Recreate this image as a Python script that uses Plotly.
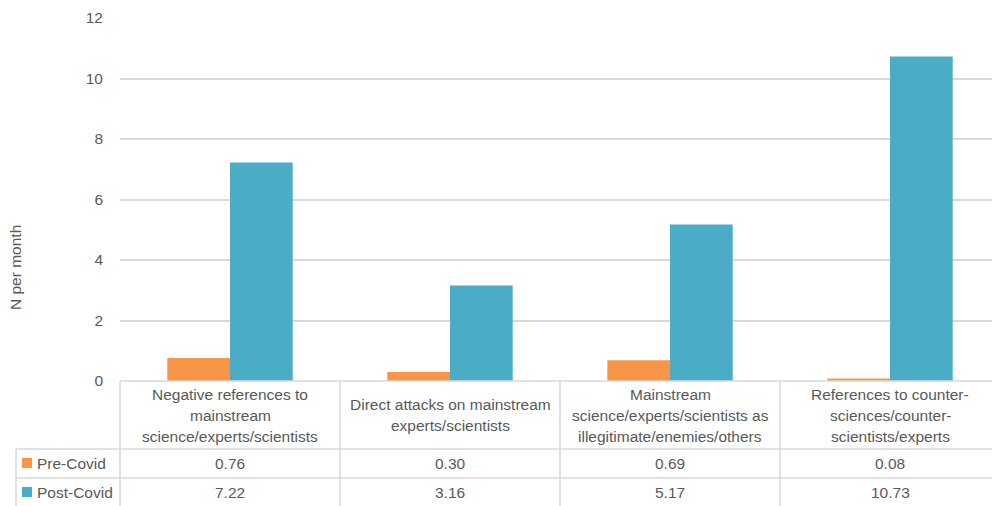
import plotly.graph_objects as go

# Category labels, split into the lines shown in the table header
categories = [
    "Negative references to mainstream science/experts/scientists",
    "Direct attacks on mainstream experts/scientists",
    "Mainstream science/experts/scientists as illegitimate/enemies/others",
    "References to counter-sciences/counter-scientists/experts",
]
category_lines = [
    ["Negative references to", "mainstream", "science/experts/scientists"],
    ["Direct attacks on mainstream", "experts/scientists"],
    ["Mainstream", "science/experts/scientists as", "illegitimate/enemies/others"],
    ["References to counter-", "sciences/counter-", "scientists/experts"],
]
series_names = ["Pre-Covid", "Post-Covid"]
pre_covid = [0.76, 0.30, 0.69, 0.08]
post_covid = [7.22, 3.16, 5.17, 10.73]
y_ticks = [0, 2, 4, 6, 8, 10, 12]

ORANGE = "#F79646"
BLUE = "#4BACC6"
TEXT = "#595959"
GRID = "#D9D9D9"
FONT = "Liberation Sans, Arial, sans-serif"
FS = 15.5

W, H = 992, 506
L, R, T, B = 120, 0, 18, 125
plot_w = W - L - R
plot_h = H - T - B

def px_x(px):
    return (px - L) / plot_w

def px_y(py):
    return (H - B - py) / plot_h

x_idx = list(range(len(categories)))

fig = go.Figure()
fig.add_trace(go.Bar(x=x_idx, y=pre_covid, name=series_names[0],
                     marker=dict(color=ORANGE, line=dict(width=0))))
fig.add_trace(go.Bar(x=x_idx, y=post_covid, name=series_names[1],
                     marker=dict(color=BLUE, line=dict(width=0))))

# column width in pixels is 220 -> visible range from the plot's left edge
col_px = 220
x_range = [-0.5, -0.5 + plot_w / col_px]

shapes = []
line_style = dict(color=GRID, width=1.5)
# table horizontal rules
for py, x0 in [(381, 120), (449, 16), (478, 16)]:
    shapes.append(dict(type="line", xref="paper", yref="paper",
                       x0=px_x(x0), x1=px_x(1000), y0=px_y(py), y1=px_y(py),
                       line=line_style))
# table vertical rules
for px_, y0 in [(16, 449), (120, 381), (340, 381), (560, 381), (780, 381)]:
    shapes.append(dict(type="line", xref="paper", yref="paper",
                       x0=px_x(px_), x1=px_x(px_), y0=px_y(y0), y1=px_y(510),
                       line=line_style))
# legend keys in the table rows
for color, cy in [(ORANGE, 463), (BLUE, 492)]:
    shapes.append(dict(type="rect", xref="paper", yref="paper",
                       x0=px_x(22), x1=px_x(32), y0=px_y(cy - 5), y1=px_y(cy + 5),
                       fillcolor=color, line=dict(width=0)))

annotations = []
label_font = dict(family=FONT, size=FS, color=TEXT)
for i, lines in enumerate(category_lines):
    n = len(lines)
    start = 415 - (n - 1) * 21 / 2
    for j, txt in enumerate(lines):
        annotations.append(dict(x=i, xref="x", y=px_y(start + j * 21), yref="paper",
                                text=txt, showarrow=False, font=label_font,
                                xanchor="center", yanchor="middle"))
for vals, cy in [(pre_covid, 463), (post_covid, 492)]:
    for i, v in enumerate(vals):
        annotations.append(dict(x=i, xref="x", y=px_y(cy), yref="paper",
                                text=f"{v:.2f}", showarrow=False, font=label_font,
                                xanchor="center", yanchor="middle"))
for name, cy in zip(series_names, [463, 492]):
    annotations.append(dict(x=px_x(35), xref="paper", y=px_y(cy), yref="paper",
                            text=name, showarrow=False, font=label_font,
                            xanchor="left", yanchor="middle"))
annotations.append(dict(x=px_x(15), xref="paper", y=px_y(268), yref="paper",
                        text="N per month", textangle=-90, showarrow=False,
                        font=dict(family=FONT, size=FS, color=TEXT),
                        xanchor="center", yanchor="middle"))

fig.update_layout(
    width=W, height=H,
    margin=dict(l=L, r=R, t=T, b=B, pad=0),
    paper_bgcolor="white", plot_bgcolor="white",
    barmode="group", bargap=0.43, bargroupgap=0,
    showlegend=False,
    font=dict(family=FONT, color=TEXT),
    xaxis=dict(range=x_range, showticklabels=False, showgrid=False,
               zeroline=False, showline=False, fixedrange=True),
    yaxis=dict(range=[0, 12], tickvals=y_ticks, showgrid=True, gridcolor=GRID,
               gridwidth=1.5, zeroline=False, showline=False,
               tickfont=dict(family=FONT, size=FS, color=TEXT),
               ticklabelstandoff=16),
    shapes=shapes,
    annotations=annotations,
)

fig.write_html("out.html")
